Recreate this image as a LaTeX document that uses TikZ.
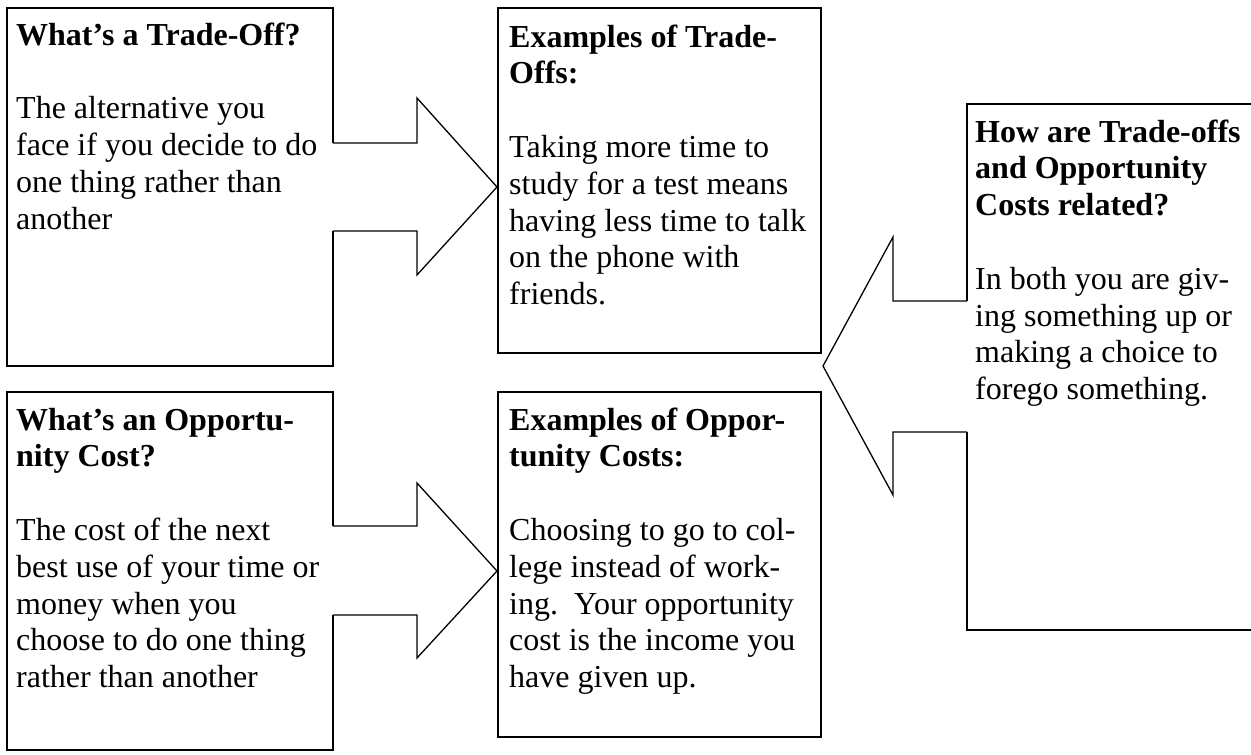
\documentclass[tikz,border=0pt]{standalone}
\usepackage{fontspec}
\setmainfont{Liberation Serif}
\begin{document}
\begin{tikzpicture}[x=1pt,y=-1pt,
  boxline/.style={line width=2.2pt, line join=miter},
  exline/.style={line width=2.8pt, line join=miter},
  arrowline/.style={line width=1.3pt, line join=miter},
  txt/.style={anchor=base west, inner sep=0pt, align=left, font=\fontsize{32}{36.8}\selectfont}]
\useasboundingbox (0,0) rectangle (1251,755);
\clip (0,0) rectangle (1251,755);
\fill[white] (0,0) rectangle (1251,755);

% box 1 with right arrow
\draw[boxline] (333,143) -- (333,8) -- (7,8) -- (7,366) -- (333,366) -- (333,231);
\draw[arrowline] (333,143) -- (417,143) -- (417,98) -- (497,187) -- (417,275) -- (417,231) -- (333,231);

% box 3 with right arrow
\draw[boxline] (333,526) -- (333,392) -- (7,392) -- (7,750) -- (333,750) -- (333,615);
\draw[arrowline] (333,526) -- (417,526) -- (417,483) -- (497,571) -- (417,658) -- (417,615) -- (333,615);

% example boxes
\draw[exline] (498,8) rectangle (821,353);
\draw[exline] (498,392) rectangle (821,737);

% box 5 with left arrow
\draw[boxline] (967,301) -- (967,104) -- (1262,104);
\draw[boxline] (967,432) -- (967,630) -- (1262,630);
\draw[arrowline] (967,301) -- (893,301) -- (893,237) -- (823,366) -- (893,495) -- (893,432) -- (967,432);

% texts (anchor = baseline of last line)
\node[txt] (t1) at (16,229) {\textbf{What’s a Trade-Off?}\\[36.8pt]The alternative you\\face if you decide to do\\one thing rather than\\another};
\node[txt] (t2) at (509,304.6) {\textbf{Examples of Trade-}\\\textbf{Offs:}\\[36.8pt]Taking more time to\\study for a test means\\having less time to talk\\on the phone with\\friends.};
\node[txt] (t3) at (16,687.6) {\textbf{What’s an Opportu-}\\\textbf{nity Cost?}\\[36.8pt]The cost of the next\\best use of your time or\\money when you\\choose to do one thing\\rather than another};
\node[txt] (t4) at (509,687.6) {\textbf{Examples of Oppor-}\\\textbf{tunity Costs:}\\[36.8pt]Choosing to go to col-\\lege instead of work-\\ing.\ \ Your opportunity\\cost is the income you\\have given up.};
\node[txt] (t5) at (975,399.6) {\textbf{How are Trade-offs}\\\textbf{and Opportunity}\\\textbf{Costs related?}\\[36.8pt]In both you are giv-\\ing something up or\\making a choice to\\forego something.};
\end{tikzpicture}
\end{document}
